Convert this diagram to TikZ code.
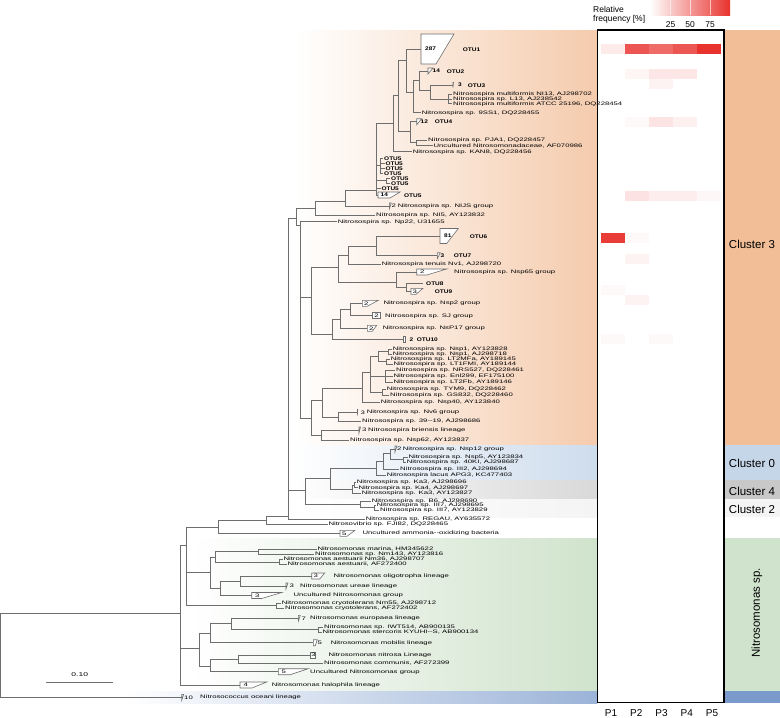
\documentclass[tikz,border=0pt]{standalone}
\usepackage{fontspec}
\setmainfont{Liberation Sans}
\newfontfamily\treefont[FakeStretch=1.55]{Liberation Sans}
\newfontfamily\otufont[FakeStretch=1.25]{Liberation Sans}

\definecolor{r242g190b152}{RGB}{242,190,152}
\definecolor{r197g214b233}{RGB}{197,214,233}
\definecolor{r200g200b200}{RGB}{200,200,200}
\definecolor{r244g244b244}{RGB}{244,244,244}
\definecolor{r208g227b204}{RGB}{208,227,204}
\definecolor{r122g154b203}{RGB}{122,154,203}
\definecolor{r232g50b45}{RGB}{232,50,45}
\definecolor{r110g110b110}{RGB}{110,110,110}

\tikzset{
  branch/.style={draw=r110g110b110, line width=0.7pt},
  leaf/.style={anchor=west, inner sep=0.6pt, text height=3.6pt, text depth=1pt,
    font=\fontsize{5}{6}\treefont},
  otulabel/.style={anchor=west, inner sep=0.6pt, text height=4pt, text depth=0pt,
    font=\fontsize{5.2}{6}\otufont\bfseries},
  cladebox/.style={draw=r110g110b110, fill=white, line width=0.6pt},
  cladenum/.style={anchor=west, inner sep=0pt, font=\fontsize{5}{6}\treefont},
  clusterlabel/.style={inner sep=0pt, font=\fontsize{11.5}{13}\selectfont},
  legendlabel/.style={inner sep=0pt, font=\fontsize{8.5}{10}\selectfont},
  panellabel/.style={inner sep=0pt, font=\fontsize{10}{12}\selectfont},
}

% collapsed clade: name, x, y, bottom width, top width, half height, number x, number
\newcommand{\cladeshape}[8]{%
  \draw[cladebox] (#2,#3-#6) -- (#2+#5,#3-#6) -- (#2+#4,#3+#6) -- (#2,#3+#6) -- cycle;%
  \coordinate (#1) at (#2,#3);%
  \node[cladenum] (#1num) at (#7,#3) {#8};%
}
% heat map cell: column, y, percent of red
\newcommand{\hcell}[3]{%
  \fill[r232g50b45!#3] ({600.5+24*(#1-1)},#2-5) rectangle ++(24,10);%
}
\newcommand{\otunum}[1]{{\fontsize{5.2}{6}\otufont\bfseries #1}}

\begin{document}
\begin{tikzpicture}[x=1pt,y=-1pt]
\useasboundingbox (0,0) rectangle (780,718);

% Changing color: cluster bands behind the tree
\shade[left color=white, right color=r242g190b152!80] (295,30) rectangle (597.3,445);
\shade[left color=white, right color=r197g214b233!85] (290,445) rectangle (597.3,480);
\shade[left color=white, right color=r200g200b200!70] (290,480) rectangle (597.3,499);
\shade[left color=white, right color=r244g244b244] (290,499) rectangle (597.3,517);
\shade[left color=white, right color=r208g227b204] (190,538) rectangle (597.3,691);
\shade[left color=white, right color=r122g154b203!75] (125,691) rectangle (597.3,703);

% Cluster column on the right
\fill[r242g190b152] (724,30) rectangle (780,445);
\fill[r197g214b233] (724,445) rectangle (780,480);
\fill[r200g200b200] (724,480) rectangle (780,499);
\fill[r244g244b244] (724,499) rectangle (780,517);
\fill[r208g227b204] (724,538) rectangle (780,691);
\fill[r122g154b203] (724,691) rectangle (780,703);
\node[clusterlabel] (cl3) at (752,244) {Cluster 3};
\node[clusterlabel] (cl0) at (752,463) {Cluster 0};
\node[clusterlabel] (cl4) at (752,491) {Cluster 4};
\node[clusterlabel] (cl2) at (752,509) {Cluster 2};
\node[clusterlabel, rotate=90] (clNm) at (757,613) {Nitrosomonas sp.};

% Heat map box and cells
\fill[white] (597.3,30) rectangle (724,702.7);
\foreach \c/\r/\v in {1/49.3/10, 2/49.3/83, 3/49.3/72, 4/49.3/82, 5/49.3/100,
  2/74/5, 3/74/12, 4/74/12, 3/84/6,
  2/122.3/3, 3/122.3/13, 4/122.3/7,
  2/196/14, 3/196/9, 4/196/9, 5/196/4,
  1/237.5/95, 2/237.5/3, 2/258.5/6,
  1/290/3, 2/300/6, 1/339/3, 3/339/3}
  \hcell{\c}{\r}{\v}
\draw[line width=1.2pt] (597.3,30) rectangle (724,702.7);
\foreach \i/\xp in {1/611,2/636.3,3/661.5,4/686.8,5/712}
  \node[panellabel] (p\i) at (\xp,713) {P\i};

% Legend of relative frequency
\shade[left color=white, right color=r232g50b45] (650,0) rectangle (730,15);
\foreach \t in {670,690,710}
  \draw[white, line width=0.3pt, opacity=0.6] (\t,0) -- (\t,15);
\node[legendlabel, anchor=west] (relA) at (593,9.5) {Relative};
\node[legendlabel, anchor=west] (relB) at (593,19.5) {frequency [\%]};
\node[legendlabel] (t25) at (670.7,24.5) {25};
\node[legendlabel] (t50) at (690,24.5) {50};
\node[legendlabel] (t75) at (710,24.5) {75};

% Internal nodes of the tree
\coordinate (root) at (0.7,655);
\coordinate (nB) at (180,613);
\coordinate (nC) at (186.7,545);
\coordinate (nQ) at (218.3,527.7);
\coordinate (nP) at (266.7,520);
\coordinate (nA) at (288.3,516);
\coordinate (n4) at (296.7,218.3);
\coordinate (n5) at (315.5,208);
\coordinate (n6) at (345.3,201);
\coordinate (nU) at (376,190);
\coordinate (nT0) at (393.3,123);
\coordinate (nT1) at (398.7,95);
\coordinate (n1) at (406,60);
\coordinate (n2) at (413,92);
\coordinate (n3a) at (419.3,80);
\coordinate (n3b) at (430,90);
\coordinate (nMul) at (448.3,99);
\coordinate (n7) at (410,131);
\coordinate (n8) at (416,142.8);
\coordinate (n5a) at (380.7,165.5);
\coordinate (n5b) at (386.5,180.5);
\coordinate (n3) at (300.7,225);
\coordinate (nL1) at (311,297);
\coordinate (nL2) at (338.3,267.3);
\coordinate (nL3) at (348.3,255);
\coordinate (nO67) at (376.7,246);
\coordinate (nL4) at (396.7,282);
\coordinate (nL4b) at (406.7,287.3);
\coordinate (nL5) at (332.7,334);
\coordinate (nL6) at (340,319);
\coordinate (nL7) at (350,309.5);
\coordinate (nSp) at (311.7,418);
\coordinate (nS) at (322,400);
\coordinate (nS0) at (362,388);
\coordinate (nS1) at (370,372);
\coordinate (nS2) at (378,356.5);
\coordinate (nS2a) at (388.5,351.5);
\coordinate (nS2b) at (386,361.5);
\coordinate (nS3) at (385,376);
\coordinate (nS4) at (382,392);
\coordinate (nV) at (338,417);
\coordinate (nBr) at (321.7,435);
\coordinate (nZ7) at (305,490);
\coordinate (nZ6) at (330,478);
\coordinate (nZ5) at (376,468);
\coordinate (nZ4) at (383,461);
\coordinate (nZ2) at (390,453);
\coordinate (nZ3) at (403,459.8);
\coordinate (nK) at (352.7,489);
\coordinate (nK1) at (354.5,485);
\coordinate (nB1) at (360,504);
\coordinate (nB2) at (374,507.8);
\coordinate (nM0) at (210,572);
\coordinate (nM1) at (215,557);
\coordinate (nMar) at (258.3,551.5);
\coordinate (nAe) at (279.3,562);
\coordinate (nM2) at (220.7,588);
\coordinate (nOl) at (240.7,581);
\coordinate (nCry) at (276.7,605.8);
\coordinate (nL) at (199,648);
\coordinate (nE0) at (210,633);
\coordinate (nE1) at (231.7,623.5);
\coordinate (nIW) at (318.3,629.8);
\coordinate (nU5) at (210,666);
\coordinate (nNit) at (238.3,659);

% Drawing collapsed clades
\cladeshape{cOTU1}{421}{49}{15}{33}{15}{425}{\otunum{287}}
\cladeshape{cOTU2}{428}{71}{0}{5}{3}{432.5}{\otunum{14}}
\cladeshape{cOTU3}{453}{85}{0}{0.5}{2.5}{458}{\otunum{3}}
\cladeshape{cOTU4}{416.7}{121.7}{0}{5}{3}{420.5}{\otunum{12}}
\cladeshape{cOTU5}{378}{195}{12}{22}{3}{380.5}{\otunum{14}}
\cladeshape{cNIJS}{389.3}{206}{0}{2}{3}{391.5}{2}
\cladeshape{cOTU6}{440}{236}{6.7}{18.3}{7.5}{444}{\otunum{81}}
\cladeshape{cOTU7}{437.3}{255.7}{0}{3}{3}{440.5}{\otunum{3}}
\cladeshape{cNsp65}{416.7}{272}{10}{30}{3}{420}{2}
\cladeshape{cOTU9}{411}{291.3}{5}{12}{3}{412.5}{3}
\cladeshape{cNsp2}{362.3}{303.3}{5}{16}{3}{364}{2}
\cladeshape{cSJ}{372.3}{315.7}{7.7}{7.7}{3}{374.2}{2}
\cladeshape{cNsP17}{367.3}{328.3}{5}{9.4}{3}{368.8}{2}
\cladeshape{cOTU10}{403.3}{339.3}{1.5}{1.5}{3}{409.5}{\otunum{2}}
\cladeshape{cNv6}{357.3}{412.5}{0}{0.5}{3}{360.5}{3}
\cladeshape{cBrien}{359}{430}{0}{1.5}{3}{362}{3}
\cladeshape{cNsp12}{395}{449}{0}{2}{3}{396.8}{2}
\cladeshape{cAOB}{340}{533.3}{7}{15}{3}{342}{5}
\cladeshape{cOligo}{311.7}{576}{8}{13}{3}{313.5}{3}
\cladeshape{cUreae}{286}{586}{0}{2}{3}{289.3}{3}
\cladeshape{cUnc3}{251.7}{595.5}{10}{30}{3}{255}{3}
\cladeshape{cEurop}{298.3}{618.3}{0}{2}{3}{301.5}{7}
\cladeshape{cMobil}{313.3}{642.7}{2}{4}{3}{317.3}{5}
\cladeshape{cNitrosa}{310}{655}{5}{5}{3}{311.2}{3}
\cladeshape{cUnc5}{278.3}{671.7}{12}{30}{3}{281.5}{5}
\cladeshape{cHalo}{240}{685}{12}{26.7}{3}{243.5}{4}
\cladeshape{cOceani}{181.7}{697.3}{0}{2}{3}{184}{10}

% OTU names beside the clades
\node[otulabel] (tOTU1) at (462,49) {OTU1};
\node[otulabel] (tOTU2) at (446,71) {OTU2};
\node[otulabel] (tOTU3) at (467,85) {OTU3};
\node[otulabel] (tOTU4) at (434,121.7) {OTU4};
\node[otulabel] (tOTU5) at (403.3,195) {OTU5};
\node[otulabel] (tOTU6) at (469,236) {OTU6};
\node[otulabel] (tOTU7) at (453,255.7) {OTU7};
\node[otulabel, inner xsep=3pt] (tOTU8) at (423,283.3) {OTU8};
\node[otulabel] (tOTU9) at (434,291.3) {OTU9};
\node[otulabel] (tOTU10) at (416,339.3) {OTU10};
\node[otulabel] (o5a) at (383.4,158) {OTU5};
\node[otulabel] (o5b) at (384.7,163) {OTU5};
\node[otulabel] (o5c) at (384.7,168) {OTU5};
\node[otulabel] (o5d) at (383.4,173) {OTU5};
\node[otulabel] (o5e) at (390.4,178) {OTU5};
\node[otulabel] (o5f) at (390.4,183) {OTU5};
\node[otulabel] (o5g) at (380.7,188) {OTU5};

% Marking leaves: Nitrosospira
\node[leaf] (lNI13) at (452.4,94.3) {Nitrosospira multiformis NI13, AJ298702};
\node[leaf] (lL13) at (452.4,99) {Nitrosospira sp. L13, AJ238542};
\node[leaf] (lATCC) at (452.4,103.7) {Nitrosospira multiformis ATCC 25196, DQ228454};
\node[leaf] (l9SS1) at (421.1,112.7) {Nitrosospira sp. 9SS1, DQ228455};
\node[leaf] (lPJA1) at (427.4,140) {Nitrosospira sp. PJA1, DQ228457};
\node[leaf] (lUncN) at (432.7,145.7) {Uncultured Nitrosomonadaceae, AF070986};
\node[leaf] (lKAN8) at (412.1,151.7) {Nitrosospira sp. KAN8, DQ228456};
\node[leaf] (lNIJS) at (397,206) {Nitrosospira sp. NIJS group};
\node[leaf] (lNI5) at (375.4,215) {Nitrosospira sp. NI5, AY123832};
\node[leaf] (lNp22) at (337.1,221.7) {Nitrosospira sp. Np22, U31655};
\node[leaf] (lNv1) at (381.1,264) {Nitrosospira tenuis Nv1, AJ298720};
\node[leaf] (lNsp65) at (453.4,272) {Nitrosospira sp. Nsp65 group};
\node[leaf] (lNsp2) at (382.7,303.3) {Nitrosospira sp. Nsp2 group};
\node[leaf] (lSJ) at (384.4,315.7) {Nitrosospira sp. SJ group};
\node[leaf] (lNsP17) at (382.1,328.3) {Nitrosospira sp. NsP17 group};
\node[leaf] (lNsp1a) at (392.1,349) {Nitrosospira sp. Nsp1, AY123828};
\node[leaf] (lNsp1b) at (392.1,354) {Nitrosospira sp. Nsp1, AJ298718};
\node[leaf] (lLT2MFa) at (390.1,359) {Nitrosospira sp. LT2MFa, AY189145};
\node[leaf] (lLT1FMI) at (392.7,364) {Nitrosospira sp. LT1FMI, AY189144};
\node[leaf] (lNRS527) at (395.4,370) {Nitrosospira sp. NRS527, DQ228461};
\node[leaf] (lEnl299) at (392.7,376) {Nitrosospira sp. Enl299, EF175100};
\node[leaf] (lLT2Fb) at (392.7,382) {Nitrosospira sp. LT2Fb, AY189146};
\node[leaf] (lTYM9) at (386.1,389) {Nitrosospira sp. TYM9, DQ228462};
\node[leaf] (lGS832) at (389.4,395) {Nitrosospira sp. GS832, DQ228460};
\node[leaf] (lNsp40) at (380.1,402) {Nitrosospira sp. Nsp40, AY123840};
\node[leaf] (lNv6) at (366,412.5) {Nitrosospira sp. Nv6 group};
\node[leaf] (l3919) at (361.4,421.5) {Nitrosospira sp. 39--19, AJ298686};
\node[leaf] (lBrien) at (367.4,430) {Nitrosospira briensis lineage};
\node[leaf] (lNsp62) at (349.4,440) {Nitrosospira sp. Nsp62, AY123837};
\node[leaf] (lNsp12) at (402,449) {Nitrosospira sp. Nsp12 group};
\node[leaf] (lNsp5) at (407.7,457.3) {Nitrosospira sp. Nsp5, AY123834};
\node[leaf] (l40KI) at (406.1,462.3) {Nitrosospira sp. 40KI, AJ298687};
\node[leaf] (lIII2) at (399.4,469.3) {Nitrosospira sp. III2, AJ298694};
\node[leaf] (lLacus) at (386.1,475) {Nitrosospira lacus APG3, KC477403};
\node[leaf] (lKa3a) at (356.1,482.3) {Nitrosospira sp. Ka3, AJ298696};
\node[leaf] (lKa4) at (357.7,487.7) {Nitrosospira sp. Ka4, AJ298697};
\node[leaf] (lKa3b) at (361.1,493) {Nitrosospira sp. Ka3, AY123827};
\node[leaf] (lB6) at (371.1,501) {Nitrosospira sp. B6, AJ298690};
\node[leaf] (lIII7a) at (376.1,505.3) {Nitrosospira sp. III7, AJ298695};
\node[leaf] (lIII7b) at (379.4,510.3) {Nitrosospira sp. III7, AY123829};
\node[leaf] (lREGAU) at (365.1,519) {Nitrosospira sp. REGAU, AY635572};
\node[leaf] (lFJI82) at (327.7,524) {Nitrosovibrio sp. FJI82, DQ228465};
\node[leaf] (lAOB) at (361.7,533.3) {Uncultured ammonia--oxidizing bacteria};

% Marking leaves: Nitrosomonas and outgroup
\node[leaf] (lMarina) at (316.7,549) {Nitrosomonas marina, HM345622};
\node[leaf] (lNm143) at (314.4,554) {Nitrosomonas sp. Nm143, AY123816};
\node[leaf] (lNm36) at (282.7,559.5) {Nitrosomonas aestuarii Nm36, AJ298707};
\node[leaf] (lAest) at (286.7,564.5) {Nitrosomonas aestuarii, AF272400};
\node[leaf] (lOligo) at (332.7,576) {Nitrosomonas oligotropha lineage};
\node[leaf] (lUreae) at (299.4,586) {Nitrosomonas ureae lineage};
\node[leaf] (lUnc3) at (292.7,595.5) {Uncultured Nitrosomonas group};
\node[leaf] (lNm55) at (281.1,603.3) {Nitrosomonas cryotolerans Nm55, AJ298712};
\node[leaf] (lCryo) at (284.4,608.3) {Nitrosomonas cryotolerans, AF272402};
\node[leaf] (lEurop) at (309.4,618.3) {Nitrosomonas europaea lineage};
\node[leaf] (lIWT) at (323.4,627.3) {Nitrosomonas sp. IWT514, AB900135};
\node[leaf] (lSterc) at (321.7,632.3) {Nitrosomonas stercoris KYUHI--S, AB900134};
\node[leaf] (lMobil) at (330.1,642.7) {Nitrosomonas mobilis lineage};
\node[leaf] (lNitrosa) at (327.7,655) {Nitrosomonas nitrosa Lineage};
\node[leaf] (lComm) at (323.4,663.3) {Nitrosomonas communis, AF272399};
\node[leaf] (lUnc5) at (309.4,671.7) {Uncultured Nitrosomonas group};
\node[leaf] (lHalo) at (271.1,685) {Nitrosomonas halophila lineage};
\node[leaf] (lOceani) at (199.4,697.3) {Nitrosococcus oceani lineage};

% Drawing branches parent to child
\foreach \p/\c in {
  root/nB, root/cOceani,
  nB/nC, nB/nL, nB/cHalo,
  nC/nQ, nC/nM0, nC/nCry,
  nQ/nP, nQ/cAOB,
  nP/nA, nP/lFJI82.west,
  nA/n4, nA/nZ7, nA/lREGAU.west,
  n4/n5, n4/n3,
  n5/n6, n5/lNI5.west,
  n6/nU, n6/cNIJS,
  nU/nT0, nU/n5a, nU/n5b, nU/o5g.west, nU/cOTU5,
  n5a/o5a.west, n5a/o5b.west, n5a/o5c.west, n5a/o5d.west,
  n5b/o5e.west, n5b/o5f.west,
  nT0/nT1, nT0/lKAN8.west,
  nT1/n1, nT1/n7,
  n1/cOTU1, n1/n2,
  n2/n3a, n2/l9SS1.west,
  n3a/cOTU2, n3a/n3b,
  n3b/cOTU3, n3b/nMul,
  nMul/lNI13.west, nMul/lL13.west, nMul/lATCC.west,
  n7/cOTU4, n7/n8,
  n8/lPJA1.west, n8/lUncN.west,
  n3/lNp22.west, n3/nL1, n3/nSp,
  nL1/nL2, nL1/nL5,
  nL2/nL3, nL2/nL4,
  nL3/nO67, nL3/lNv1.west,
  nO67/cOTU6, nO67/cOTU7,
  nL4/cNsp65, nL4/nL4b,
  nL4b/tOTU8.west, nL4b/cOTU9,
  nL5/nL6, nL5/cOTU10,
  nL6/nL7, nL6/cNsP17,
  nL7/cNsp2, nL7/cSJ,
  nSp/nS, nSp/nBr,
  nS/nS0, nS/nV,
  nS0/nS1, nS0/lNsp40.west,
  nS1/nS2, nS1/nS3, nS1/nS4,
  nS2/nS2a, nS2/nS2b,
  nS2a/lNsp1a.west, nS2a/lNsp1b.west,
  nS2b/lLT2MFa.west, nS2b/lLT1FMI.west,
  nS3/lNRS527.west, nS3/lEnl299.west, nS3/lLT2Fb.west,
  nS4/lTYM9.west, nS4/lGS832.west,
  nV/cNv6, nV/l3919.west,
  nBr/cBrien, nBr/lNsp62.west,
  nZ7/nZ6, nZ7/nB1,
  nZ6/nZ5, nZ6/nK,
  nZ5/nZ4, nZ5/lLacus.west,
  nZ4/nZ2, nZ4/lIII2.west,
  nZ2/cNsp12, nZ2/nZ3,
  nZ3/lNsp5.west, nZ3/l40KI.west,
  nK/nK1, nK/lKa3b.west,
  nK1/lKa3a.west, nK1/lKa4.west,
  nB1/lB6.west, nB1/nB2,
  nB2/lIII7a.west, nB2/lIII7b.west,
  nM0/nM1, nM0/nM2,
  nM1/nMar, nM1/nAe,
  nMar/lMarina.west, nMar/lNm143.west,
  nAe/lNm36.west, nAe/lAest.west,
  nM2/nOl, nM2/cUnc3,
  nOl/cOligo, nOl/cUreae,
  nCry/lNm55.west, nCry/lCryo.west,
  nL/nE0, nL/nU5,
  nE0/nE1, nE0/cMobil,
  nE1/cEurop, nE1/nIW,
  nIW/lIWT.west, nIW/lSterc.west,
  nU5/nNit, nU5/cUnc5,
  nNit/cNitrosa, nNit/lComm.west}
  \draw[branch] (\p) |- (\c);

% Scale bar
\coordinate (sbL) at (46,682.3);
\coordinate (sbR) at (113.3,682.3);
\draw[branch] (sbL) -- (sbR);
\node[inner sep=0pt, font=\fontsize{5.5}{6}\treefont] (sbtext) at (79.7,675) {0.10};

\end{tikzpicture}
\end{document}
